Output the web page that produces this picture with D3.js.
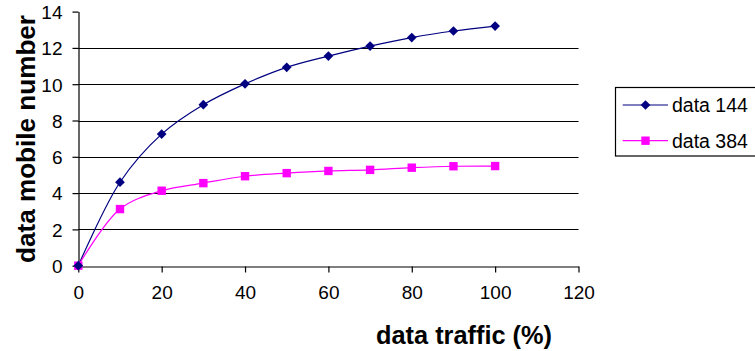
<!DOCTYPE html>
<html>
<head>
<meta charset="utf-8">
<script src="https://cdn.jsdelivr.net/npm/d3@7"></script>
<style>
  html, body { margin: 0; padding: 0; background: #fff; }
  svg { display: block; }
  text { font-family: "Liberation Sans", Arial, sans-serif; fill: #000; }
</style>
</head>
<body>
<svg id="chart" width="755" height="351"></svg>
<script>
// Traffic share (%) on the x axis
const traffic = [0, 10, 20, 30, 40, 50, 60, 70, 80, 90, 100];
// Mobile counts for each data rate
const data144 = [0, 4.6, 7.25, 8.87, 10.02, 10.93, 11.55, 12.1, 12.57, 12.93, 13.2];
const data384 = [0, 3.12, 4.13, 4.55, 4.93, 5.1, 5.22, 5.28, 5.4, 5.48, 5.49];
const seriesNames = ["data 144", "data 384"];
const seriesColors = ["#000080", "#ff00ff"];
const xTicks = [0, 20, 40, 60, 80, 100, 120];
const yTicks = [0, 2, 4, 6, 8, 10, 12, 14];

const svg = d3.select("#chart");
const x = d3.scaleLinear().domain([0, 120]).range([78.3, 578.5]);
const y = d3.scaleLinear().domain([0, 14]).range([265.7, 11.6]);

// Horizontal gridlines (skip the top and the axis line itself)
svg.append("g")
  .selectAll("line")
  .data(yTicks.filter(d => d > 0 && d < 14))
  .join("line")
  .attr("x1", x(0)).attr("x2", x(120))
  .attr("y1", d => Math.round(y(d)) + 0.5).attr("y2", d => Math.round(y(d)) + 0.5)
  .attr("stroke", "#000").attr("stroke-width", 1.2);

// Axes
const xAxis = svg.append("g")
  .attr("transform", `translate(0,${Math.round(y(0)) + 0.5})`)
  .call(d3.axisBottom(x).tickValues(xTicks).tickSize(6).tickSizeOuter(0).tickPadding(13));
const yAxis = svg.append("g")
  .attr("transform", `translate(${Math.round(x(0)) + 0.5},0)`)
  .call(d3.axisLeft(y).tickValues(yTicks).tickSize(6).tickSizeOuter(0).tickPadding(10));

[xAxis, yAxis].forEach(g => {
  g.select(".domain").attr("stroke", "#000").attr("stroke-width", 1.2);
  g.selectAll(".tick line").attr("stroke", "#000").attr("stroke-width", 1.2);
  g.selectAll(".tick text")
    .style("font-family", '"Liberation Sans", Arial, sans-serif')
    .style("font-size", "19px")
    .attr("fill", "#000");
});
yAxis.selectAll(".tick text").attr("dy", "0.36em");

// Series lines and markers
const series = [data144, data384];
const line = d3.line()
  .x((d, i) => x(traffic[i]))
  .y(d => y(d))
  .curve(d3.curveCatmullRom.alpha(0.5));

series.forEach((vals, si) => {
  svg.append("path")
    .attr("d", line(vals))
    .attr("fill", "none")
    .attr("stroke", seriesColors[si])
    .attr("stroke-width", 1.2);
});

const diamond = d3.symbol().type(d3.symbolDiamond2).size(60);
const square = d3.symbol().type(d3.symbolSquare2).size(52);

function drawMarker(g, kind, cx, cy, color) {
  if (kind === 0) {
    g.append("path").attr("d", diamond()).attr("transform", `translate(${cx},${cy})`)
      .attr("fill", color);
  } else {
    g.append("rect").attr("x", cx - 4.2).attr("y", cy - 4.2)
      .attr("width", 8.4).attr("height", 8.4).attr("fill", color);
  }
}

// Draw the 384 markers first so the 144 markers sit on top
const markerLayer = svg.append("g");
[1, 0].forEach(si => {
  series[si].forEach((v, i) => drawMarker(markerLayer, si, x(traffic[i]), y(v), seriesColors[si]));
});

// Axis titles
svg.append("text")
  .attr("x", 464).attr("y", 343.5)
  .attr("text-anchor", "middle")
  .attr("textLength", 176).attr("lengthAdjust", "spacingAndGlyphs")
  .style("font-size", "26px").style("font-weight", "bold")
  .text("data traffic  (%)");

svg.append("text")
  .attr("transform", "translate(34.5,139) rotate(-90)")
  .attr("text-anchor", "middle")
  .attr("textLength", 248).attr("lengthAdjust", "spacingAndGlyphs")
  .style("font-size", "25px").style("font-weight", "bold")
  .text("data mobile number");

// Legend
const legend = svg.append("g");
legend.append("rect")
  .attr("x", 615.5).attr("y", 87.5).attr("width", 150).attr("height", 68.5)
  .attr("fill", "#fff").attr("stroke", "#000").attr("stroke-width", 1.2);

const rowY = [105, 140.7];
seriesNames.forEach((name, si) => {
  legend.append("line")
    .attr("x1", 622.7).attr("x2", 668).attr("y1", rowY[si]).attr("y2", rowY[si])
    .attr("stroke", seriesColors[si]).attr("stroke-width", 1.2);
  drawMarker(legend, si, 645.5, rowY[si], seriesColors[si]);
  legend.append("text")
    .attr("x", 672).attr("y", rowY[si]).attr("dy", "0.36em")
    .style("font-size", "19.5px")
    .text(name);
});
</script>
</body>
</html>
